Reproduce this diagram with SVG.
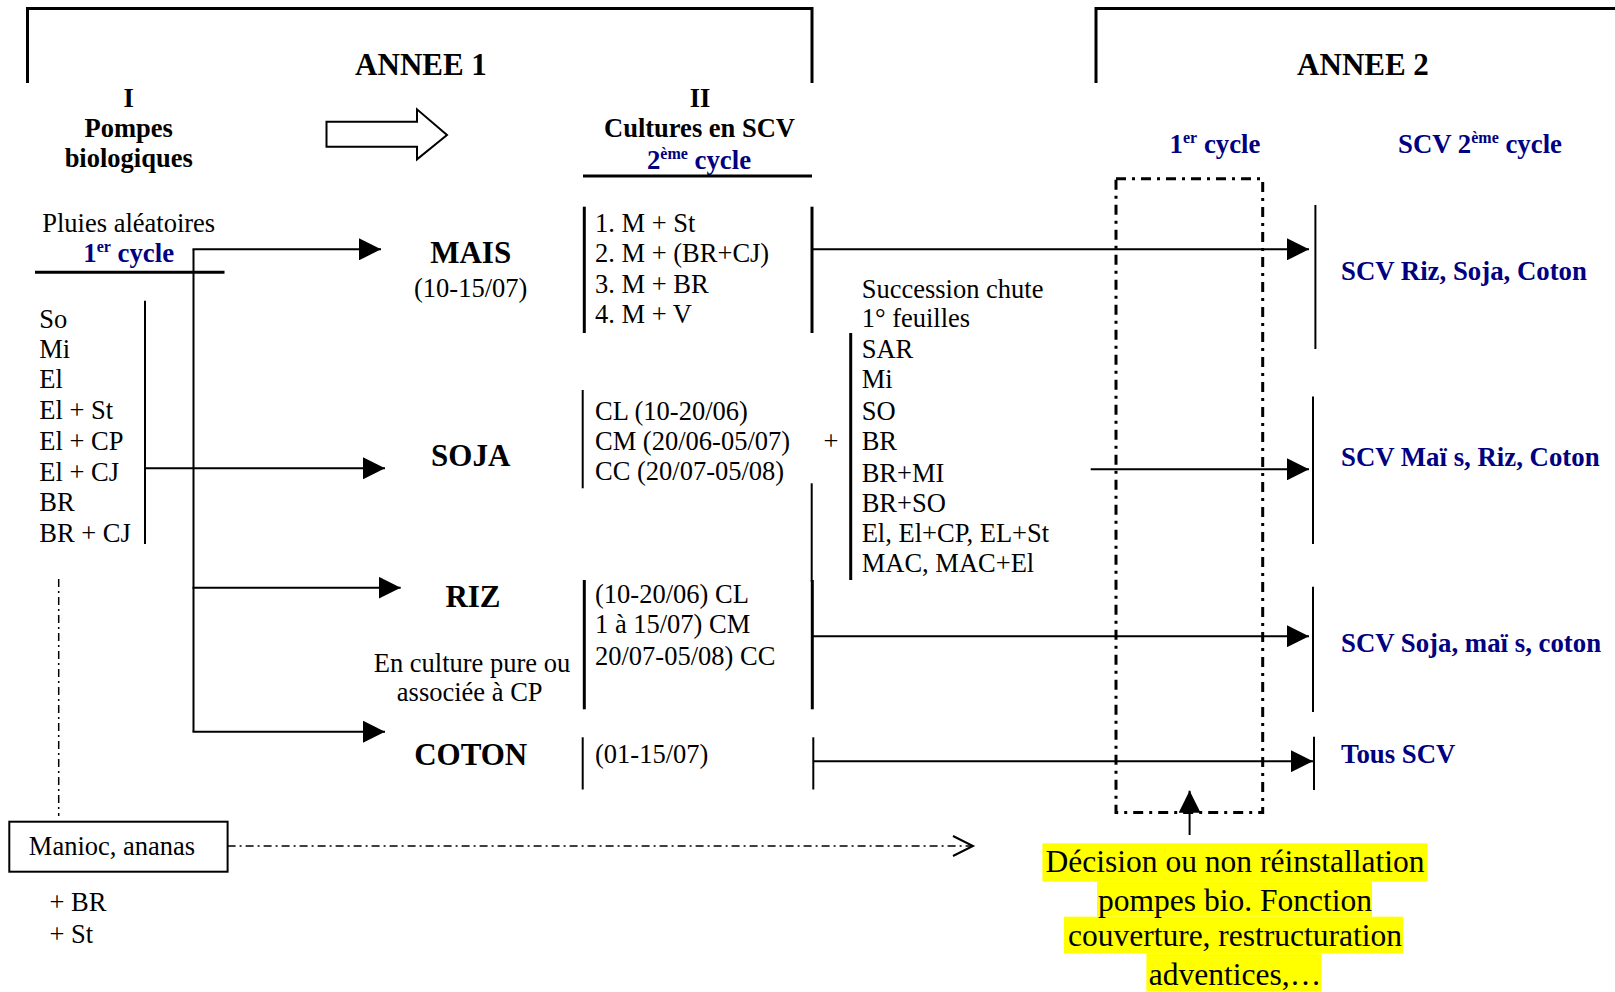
<svg xmlns="http://www.w3.org/2000/svg" width="1615" height="992" viewBox="0 0 1615 992">
<style>
text{font-family:"Liberation Serif","Times New Roman",serif;fill:#000}
.r{font-size:26.5px}
.b{font-weight:bold;font-size:26.5px}
.big{font-weight:bold;font-size:31px}
.blue{fill:#000080;font-weight:bold;font-size:26.8px}
.m{text-anchor:middle}
.thick{stroke:#000;stroke-width:3;fill:none}
.thin{stroke:#000;stroke-width:2;fill:none}
.conn{stroke:#000;stroke-width:2;fill:none}
.sup{font-size:16px}
</style>
<defs>
<marker id="ah" markerWidth="22" markerHeight="22" refX="22" refY="11" orient="auto" markerUnits="userSpaceOnUse"><path d="M0,0 L22,11 L0,22 z" fill="#000"/></marker>
<marker id="open" markerWidth="24" markerHeight="24" refX="21" refY="11" orient="auto" markerUnits="userSpaceOnUse"><path d="M1,1 L21,11 L1,21" fill="none" stroke="#000" stroke-width="2"/></marker>
</defs>
<rect width="1615" height="992" fill="#fff"/>

<g id="annee1">
<path class="thick" d="M27.5,83 V8.5 H812 V83"/>
<text class="big m" x="421" y="75">ANNEE 1</text>
</g>
<g id="annee2">
<path class="thick" d="M1096,83 V8.5 H1620"/>
<text class="big m" x="1363" y="75">ANNEE 2</text>
</g>

<g id="pompes">
<text class="b m" x="128.7" y="107">I</text>
<text class="b m" x="128.7" y="137">Pompes</text>
<text class="b m" x="128.7" y="167">biologiques</text>
</g>

<g id="hollow-arrow">
<path d="M326.5,121.7 H417 V109.3 L447,135 L417,159.3 V146.7 H326.5 Z" fill="#fff" stroke="#000" stroke-width="2"/>
</g>

<g id="cultures">
<text class="b m" x="700" y="107">II</text>
<text class="b m" x="699.5" y="137">Cultures en SCV</text>
<text class="blue m" x="699" y="169">2<tspan class="sup" dy="-10">ème</tspan><tspan dy="10"> cycle</tspan></text>
<line class="thick" x1="583" y1="176" x2="812" y2="176"/>
</g>

<g id="pluies">
<text class="r m" x="128.7" y="231.7">Pluies aléatoires</text>
<text class="blue m" x="128.7" y="261.7">1<tspan class="sup" dy="-10">er</tspan><tspan dy="10"> cycle</tspan></text>
<line class="thick" x1="35" y1="272.3" x2="224.5" y2="272.3"/>
</g>

<g id="pompes-list">
<line class="thin" x1="145" y1="300.7" x2="145" y2="544"/>
<text class="r" x="39.3" y="327.7">So</text>
<text class="r" x="39.3" y="357.5">Mi</text>
<text class="r" x="39.3" y="388">El</text>
<text class="r" x="39.3" y="419">El + St</text>
<text class="r" x="39.3" y="449.5">El + CP</text>
<text class="r" x="39.3" y="480.5">El + CJ</text>
<text class="r" x="39.3" y="511">BR</text>
<text class="r" x="39.3" y="541.7">BR + CJ</text>
</g>

<g id="mais">
<text class="big m" x="470.7" y="263.3">MAIS</text>
<text class="r m" x="470.7" y="297">(10-15/07)</text>
</g>
<g id="soja">
<text class="big m" x="470.7" y="466">SOJA</text>
</g>
<g id="riz">
<text class="big m" x="473" y="606.7">RIZ</text>
<text class="r m" x="472" y="671.7">En culture pure ou</text>
<text class="r m" x="469.7" y="701">associée à CP</text>
</g>
<g id="coton">
<text class="big m" x="470.7" y="765">COTON</text>
</g>

<g id="mais-list">
<line class="thick" x1="584.3" y1="206.7" x2="584.3" y2="333"/>
<line class="thick" x1="812" y1="206.7" x2="812" y2="333"/>
<text class="r" x="595" y="231.7">1. M + St</text>
<text class="r" x="595" y="261.7">2. M + (BR+CJ)</text>
<text class="r" x="595" y="293">3. M + BR</text>
<text class="r" x="595" y="323.3">4. M + V</text>
</g>
<g id="soja-list">
<line class="thin" x1="582.7" y1="390" x2="582.7" y2="488.3"/>
<text class="r" x="595" y="420">CL (10-20/06)</text>
<text class="r" x="595" y="450">CM (20/06-05/07)</text>
<text class="r" x="595" y="480">CC (20/07-05/08)</text>
<text class="r m" x="831" y="450">+</text>
</g>
<g id="succession">
<line class="thick" x1="850.7" y1="333" x2="850.7" y2="580"/>
<line class="thin" x1="811.7" y1="483.3" x2="811.7" y2="581.7"/>
<text class="r" x="861.7" y="298.3">Succession chute</text>
<text class="r" x="861.7" y="326.7">1° feuilles</text>
<text class="r" x="861.7" y="358.3">SAR</text>
<text class="r" x="861.7" y="388.3">Mi</text>
<text class="r" x="861.7" y="420">SO</text>
<text class="r" x="861.7" y="450">BR</text>
<text class="r" x="861.7" y="481.7">BR+MI</text>
<text class="r" x="861.7" y="511.7">BR+SO</text>
<text class="r" x="861.7" y="541.7">El, El+CP, EL+St</text>
<text class="r" x="861.7" y="571.7">MAC, MAC+El</text>
</g>
<g id="riz-list">
<line class="thick" x1="584.3" y1="580" x2="584.3" y2="709.3"/>
<line class="thick" x1="812.3" y1="580" x2="812.3" y2="709.3"/>
<text class="r" x="595" y="603.3">(10-20/06) CL</text>
<text class="r" x="595" y="633.3">1 à 15/07) CM</text>
<text class="r" x="595" y="665">20/07-05/08) CC</text>
</g>
<g id="coton-list">
<line class="thin" x1="582.7" y1="737.3" x2="582.7" y2="789.5"/>
<line class="thin" x1="813.3" y1="737.3" x2="813.3" y2="789.5"/>
<text class="r" x="595" y="763.3">(01-15/07)</text>
</g>

<g id="cycle1-box">
<text class="blue m" x="1215" y="152.7">1<tspan class="sup" dy="-10">er</tspan><tspan dy="10"> cycle</tspan></text>
<rect x="1116" y="178.7" width="146.7" height="633.8" fill="none" stroke="#000" stroke-width="3" stroke-dasharray="10,6,3,6"/>
</g>
<g id="scv2-header">
<text class="blue m" x="1480" y="152.7">SCV 2<tspan class="sup" dy="-10">ème</tspan><tspan dy="10"> cycle</tspan></text>
</g>

<g id="scv-riz">
<line class="thin" x1="1315.4" y1="205" x2="1315.4" y2="349"/>
<text class="blue" x="1341" y="280">SCV Riz, Soja, Coton</text>
</g>
<g id="scv-mais">
<line class="thin" x1="1313" y1="396.5" x2="1313" y2="544"/>
<text class="blue" x="1341" y="465.7">SCV Maï  s, Riz, Coton</text>
</g>
<g id="scv-soja">
<line class="thin" x1="1313" y1="586.7" x2="1313" y2="712"/>
<text class="blue" x="1341" y="651.7">SCV Soja, maï  s, coton</text>
</g>
<g id="scv-tous">
<line class="thin" x1="1314" y1="736.7" x2="1314" y2="790"/>
<text class="blue" x="1341" y="762.7">Tous SCV</text>
</g>

<g id="manioc">
<line x1="58.7" y1="579" x2="58.7" y2="816" stroke="#000" stroke-width="1.5" stroke-dasharray="8,4,2,4"/>
<rect x="9.3" y="821.7" width="218.3" height="50" fill="#fff" stroke="#000" stroke-width="2"/>
<text class="r m" x="112" y="855">Manioc, ananas</text>
<text class="r" x="49.4" y="911">+ BR</text>
<text class="r" x="49.4" y="943">+ St</text>
</g>

<g id="decision">
<rect x="1042.4" y="843.3" width="385.2" height="38.4" fill="#ffff00"/>
<rect x="1097" y="881.7" width="275" height="35" fill="#ffff00"/>
<rect x="1064" y="916.7" width="339" height="36.6" fill="#ffff00"/>
<rect x="1146.4" y="953.3" width="175.1" height="38.4" fill="#ffff00"/>
<text class="m" style="font-size:31.5px" x="1235" y="872">Décision ou non réinstallation</text>
<text class="m" style="font-size:31.5px" x="1235" y="910.5">pompes bio. Fonction</text>
<text class="m" style="font-size:31.5px" x="1235" y="946">couverture, restructuration</text>
<text class="m" style="font-size:31.5px" x="1235" y="985">adventices,…</text>
</g>

<g id="connectors">
<line class="conn" x1="193.5" y1="249.3" x2="193.5" y2="731.7"/>
<line class="conn" x1="192.5" y1="249.3" x2="381" y2="249.3" marker-end="url(#ah)"/>
<line class="conn" x1="145" y1="468.3" x2="385" y2="468.3" marker-end="url(#ah)"/>
<line class="conn" x1="192.5" y1="587.7" x2="400.7" y2="587.7" marker-end="url(#ah)"/>
<line class="conn" x1="192.5" y1="731.7" x2="385" y2="731.7" marker-end="url(#ah)"/>
<line class="conn" x1="812" y1="249.3" x2="1309" y2="249.3" marker-end="url(#ah)"/>
<line class="conn" x1="1090.7" y1="469.3" x2="1309" y2="469.3" marker-end="url(#ah)"/>
<line class="conn" x1="812" y1="636.2" x2="1309" y2="636.2" marker-end="url(#ah)"/>
<line class="conn" x1="813" y1="761.2" x2="1313" y2="761.2" marker-end="url(#ah)"/>
<line class="conn" x1="1189.6" y1="835" x2="1189.6" y2="790.7" marker-end="url(#ah)"/>
<line x1="227.6" y1="846" x2="973" y2="846" stroke="#000" stroke-width="1.5" stroke-dasharray="8,4,2,4" marker-end="url(#open)"/>
</g>
</svg>
